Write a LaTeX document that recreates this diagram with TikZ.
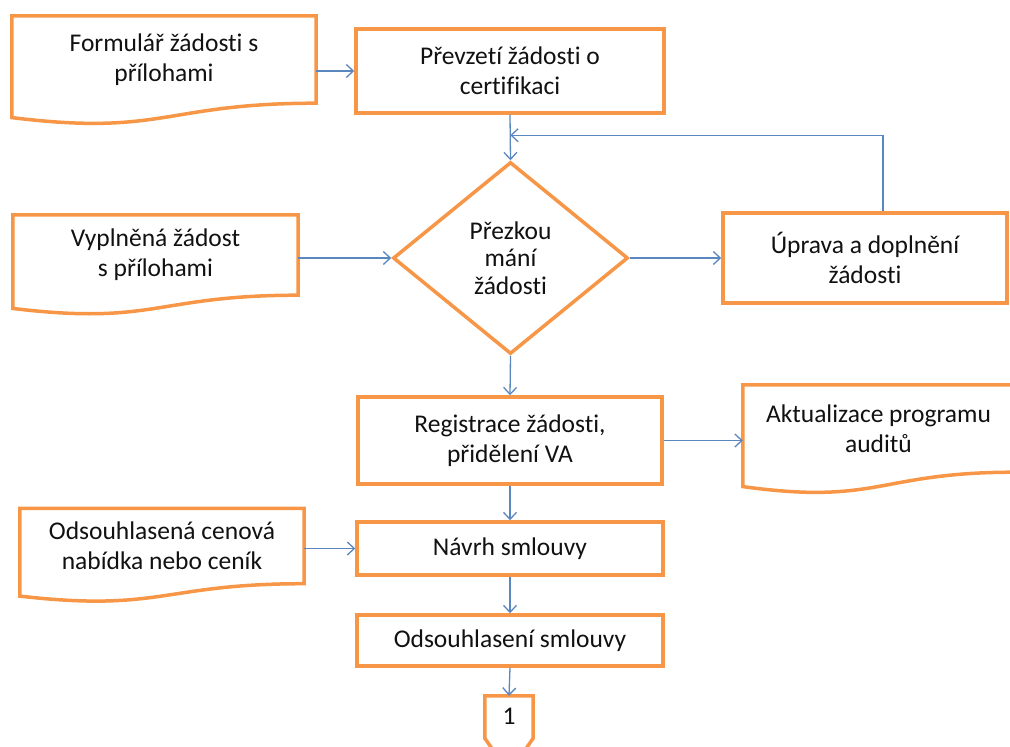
\documentclass[tikz,border=0pt]{standalone}
\usepackage{fontspec}
\setmainfont{Carlito}[Ligatures=NoCommon]
\usetikzlibrary{arrows.meta,calc,shapes.geometric}
\definecolor{ora}{HTML}{F79646}
\definecolor{blu}{HTML}{5B87C0}
\definecolor{txt}{HTML}{111111}
\newcommand\fs{\fontsize{25.5}{30}\selectfont}
\newcommand\drawdoc[1]{%
  \draw[docline] let \p1=(#1.north west), \p2=(#1.south east), \n1={\y1-\y2} in
    (\p1) -- (\x2,\y1) -- (\p2) .. controls (#1.south) and ({0.5*\x1+0.5*\x2},{\y2-0.38*\n1}) ..
    (\x1,{\y2-0.1646*\n1}) -- cycle;}
\tikzset{
  docline/.style={draw=ora, line width=3.5pt, line join=miter},
  procbox/.style={draw=ora, line width=3.5pt, fill=white, inner sep=2pt, align=center, font=\fs, text=txt},
  docnode/.style={inner sep=2pt, align=center, font=\fs, text=txt},
  arr/.style={draw=blu, line width=1.3pt, -{Straight Barb[length=7pt,width=13pt,line width=1.3pt]}},
}
\begin{document}
\begin{tikzpicture}[x=1pt,y=-1pt]
\useasboundingbox (0,0) rectangle (1010,747);
\begin{scope}
\clip (0,0) rectangle (1010,747);
% documents
\node[docnode, minimum width=304, minimum height=87] (d1) at (164,59.5) {Formulář žádosti s\\přílohami};
\node[docnode, minimum width=285, minimum height=80] (d2) at (155.5,255) {Vyplněná žádost\\s přílohami};
\node[docnode, minimum width=271, minimum height=87] (d3) at (878.5,428.5) {Aktualizace programu\\auditů};
\node[docnode, minimum width=284, minimum height=75] (d4) at (162,546) {Odsouhlasená cenová\\nabídka nebo ceník};
\drawdoc{d1}
\drawdoc{d2}
\drawdoc{d3}
\drawdoc{d4}
% process boxes
\node[procbox, minimum width=308, minimum height=84] (b2) at (510,71) {Převzetí žádosti o\\certifikaci};
\node[procbox, shape=diamond, minimum width=235, minimum height=192, inner sep=0pt, font=\fontsize{25.5}{27.5}\selectfont] (dia) at (510.5,258) {Přezkou\\mání\\žádosti};
\node[procbox, minimum width=284, minimum height=90] (up) at (865,258) {Úprava a doplnění\\žádosti};
\node[procbox, minimum width=304, minimum height=87] (reg) at (510,440.5) {Registrace žádosti,\\přidělení VA};
\node[procbox, minimum width=306, minimum height=53] (nav) at (510,548.5) {Návrh smlouvy};
\node[procbox, minimum width=306, minimum height=51] (ods) at (510,640.5) {Odsouhlasení smlouvy};
\node[inner sep=0pt, minimum width=48, minimum height=40, font=\fs, text=txt] (conn) at (509,716) {1};
\draw[docline] (conn.north west) -- (conn.north east) -- ([yshift=-2]conn.south east) -- ([yshift=-37]conn.south) -- ([yshift=-2]conn.south west) -- cycle;
% connectors
\draw[arr] (d1.east |- b2.west) -- (b2.west);
\draw[arr] (b2.south) -- (dia.north);
\coordinate (j) at ($(b2.south)!0.45!(dia.north)$);
\draw[arr] ([xshift=18pt]up.north) |- (j);
\draw[arr] (d2.east |- dia.west) -- (dia.west);
\draw[arr] (dia.east) -- (up.west);
\draw[arr] (dia.south) -- (reg.north);
\draw[arr] (reg.east) -- (reg.east -| d3.west);
\draw[arr] (reg.south) -- (nav.north);
\draw[arr] (d4.east |- nav.west) -- (nav.west);
\draw[arr] (nav.south) -- (ods.north);
\draw[arr] (ods.south) -- (conn.north);
\end{scope}
\end{tikzpicture}
\end{document}
